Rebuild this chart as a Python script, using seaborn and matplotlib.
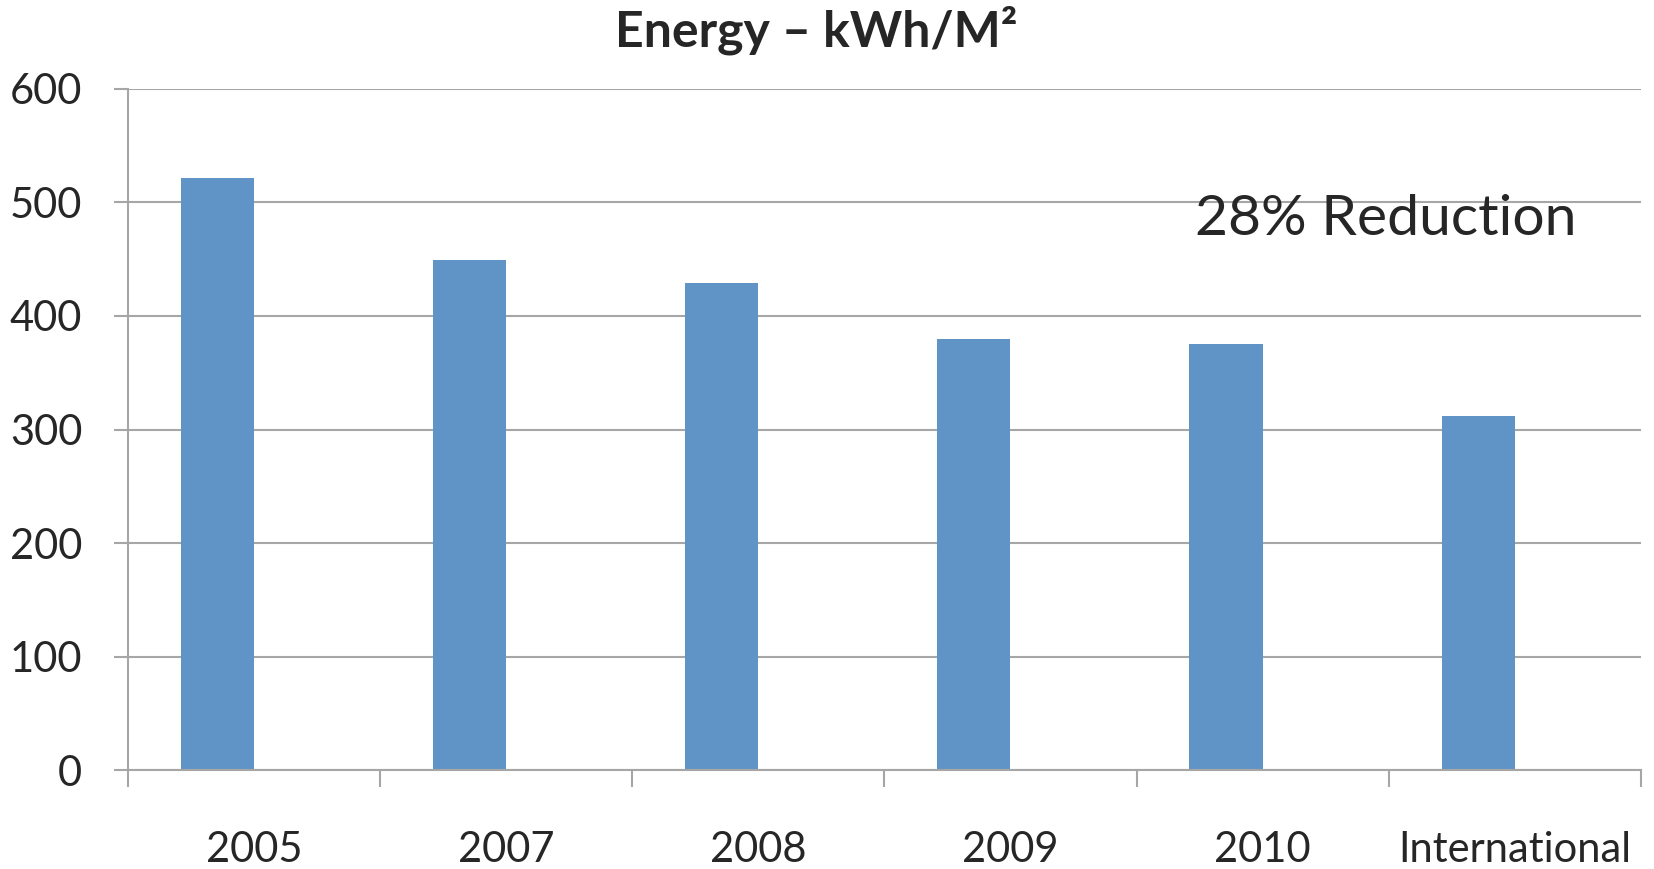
import numpy as np
import pandas as pd
import matplotlib
matplotlib.use("Agg")
import matplotlib.pyplot as plt
import seaborn as sns

categories = ["2005", "2007", "2008", "2009", "2010", "International"]
energy = [522, 449, 429, 380, 375, 312]
empty_series = [np.nan] * 6
yticks = [0, 100, 200, 300, 400, 500, 600]
title = "Energy – kWh/M²"
note = "28% Reduction"

sns.set_style("white")
plt.rcParams['font.family'] = ['Lato', 'DejaVu Sans']

df = pd.DataFrame({
    "cat": categories * 2,
    "value": energy + empty_series,
    "series": ["Energy"] * 6 + ["Blank"] * 6,
})

fig = plt.figure(figsize=(16.54, 8.69), dpi=100)
ax = fig.add_axes([0.0774, 0.1139, 0.9146, 0.7837])

sns.barplot(data=df, x="cat", y="value", hue="series", hue_order=["Energy", "Blank"],
            order=categories, palette=["#6194C6", "#6194C6"], width=0.58,
            saturation=1, legend=False, ax=ax, errorbar=None, linewidth=0)

grid_c = "#a6a6a6"
ax.set_ylim(0, 600)
ax.set_xlim(-0.5, 5.5)
ax.set_yticks(yticks)
ax.set_yticklabels([str(v) for v in yticks], fontsize=30)
ax.yaxis.grid(True, color=grid_c, linewidth=1.5)
ax.set_axisbelow(True)
ax.tick_params(axis="y", length=10, width=1.5, color=grid_c, pad=23, left=True)

ax.set_xticks(range(len(categories)))
ax.set_xticklabels(categories, fontsize=30)
ax.tick_params(axis="x", which="major", length=0, pad=44)
ax.set_xticks(np.arange(-0.5, 6.0, 1.0), minor=True)
ax.tick_params(axis="x", which="minor", length=12, width=1.5, color=grid_c, bottom=True)
ax.set_xlabel("")
ax.set_ylabel("")

for s in ["top", "right"]:
    ax.spines[s].set_visible(False)
for s in ["left", "bottom"]:
    ax.spines[s].set_color(grid_c)
    ax.spines[s].set_linewidth(1.5)

fig.text(0.4935, 0.965, title, fontsize=36, fontweight="bold", ha="center", va="center")
ax.text(0.705, 485, note, transform=ax.get_yaxis_transform(), fontsize=41,
        ha="left", va="center")

fig.savefig("out.png", dpi=100)
